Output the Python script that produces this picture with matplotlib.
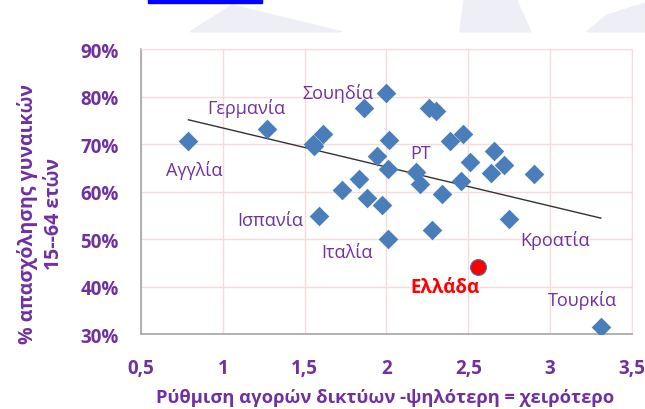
import numpy as np
import matplotlib.pyplot as plt
from matplotlib.patches import Rectangle, Polygon

plt.rcParams['font.family'] = ['Open Sans', 'DejaVu Sans']

# regulation index (x) and female employment rate 15-64 (%)
reg = [0.79, 1.27, 1.55, 1.56, 1.61, 1.86, 1.83, 1.73, 1.94, 1.59, 1.88,
       2.00, 2.26, 2.30, 2.015, 2.39, 2.47, 2.66, 2.51, 2.01, 2.18, 2.64,
       2.72, 2.90, 2.205, 2.455, 1.975, 2.34, 2.75, 2.28, 2.01, 3.31]
emp = [70.7, 73.2, 70.0, 69.5, 72.1, 77.6, 62.6, 60.3, 67.5, 54.8, 58.6,
       80.7, 77.5, 77.0, 70.8, 70.7, 72.1, 68.5, 66.3, 64.7, 64.2, 63.9,
       65.6, 63.6, 61.5, 62.3, 57.2, 59.5, 54.2, 52.0, 50.1, 31.5]

greece_x = [2.557]
greece_y = [44.2]

# trend line as drawn in the original
trend_x = [0.79, 3.31]
trend_y = [75.1, 54.4]

labels = ['Αγγλία', 'Γερμανία', 'Σουηδία', 'PT', 'Ισπανία', 'Ιταλία',
          'Κροατία', 'Τουρκία']
label_pos = [(0.825, 64.7), (1.143, 77.6), (1.70, 80.9), (2.21, 68.1),
             (1.29, 54.0), (1.76, 47.3), (3.03, 50.0), (3.20, 37.2)]

purple = '#7030A0'

fig = plt.figure(figsize=(6.45, 4.10), dpi=100)
ax = fig.add_axes([0.2186, 0.1829, 0.7612, 0.6951])

# faint slide decoration at the top
wm = '#EDEEF6'
fig.patches.append(Polygon([[0.295, 0.920], [0.36, 0.985], [0.53, 0.920]], closed=True,
                           transform=fig.transFigure, color=wm, zorder=0))
fig.patches.append(Polygon([[0.713, 0.920], [0.72, 1.0], [0.80, 1.0], [0.823, 0.920]],
                           closed=True, transform=fig.transFigure, color=wm, zorder=0))
fig.patches.append(Polygon([[0.91, 0.920], [0.94, 0.96], [1.0, 0.99], [1.0, 0.920]],
                           closed=True, transform=fig.transFigure, color=wm, zorder=0))
fig.patches.append(Rectangle((0.230, 0.991), 0.176, 0.009, transform=fig.transFigure,
                             color='#0000FF', zorder=1))

ax.plot(trend_x, trend_y, color='#333333', lw=1.0, zorder=2)
ax.scatter(reg, emp, marker='D', s=100, color='#4A7EBB', zorder=3, linewidths=0)
ax.scatter(greece_x, greece_y, marker='o', s=130, color='#FF0000',
           edgecolors='#4A6FA5', linewidths=0.8, zorder=4)

for lab, (x, y) in zip(labels, label_pos):
    ax.text(x, y, lab, color=purple, fontsize=13, ha='center', va='center')
ax.text(2.36, 39.9, 'Ελλάδα', color='#FF0000', fontsize=13.5, fontweight='bold',
        ha='center', va='center')

ax.set_xlim(0.5, 3.5)
ax.set_ylim(30, 90)
ax.set_xticks(np.arange(0.5, 3.51, 0.5))
ax.set_xticklabels(['0,5', '1', '1,5', '2', '2,5', '3', '3,5'])
ax.set_yticks(np.arange(30, 91, 10))
ax.set_yticklabels([f'{v}%' for v in range(30, 91, 10)])
ax.tick_params(length=0, labelsize=13.5, labelcolor=purple)
ax.tick_params(axis='y', pad=16)
ax.tick_params(axis='x', pad=17)
for t in ax.get_xticklabels() + ax.get_yticklabels():
    t.set_fontweight('bold')

ax.grid(True, color='#F5DCDC', lw=1.0)
ax.set_axisbelow(True)
for s in ['top', 'right']:
    ax.spines[s].set_color('#F5DCDC')
for s in ['left', 'bottom']:
    ax.spines[s].set_color('#A6A6A6')
    ax.spines[s].set_linewidth(1.2)

ax.set_xlabel('Ρύθμιση αγορών δικτύων -ψηλότερη = χειρότερο', color=purple,
              fontsize=13.2, fontweight='bold')
ax.xaxis.set_label_coords(0.497, -0.19)
ax.set_ylabel('% απασχόλησης γυναικών\n15--64 ετών', color=purple,
              fontsize=14, fontweight='bold', linespacing=1.4)
ax.yaxis.label.set_va('center')
ax.yaxis.set_label_coords(-0.205, 0.425)

fig.savefig('out.png', dpi=100)
